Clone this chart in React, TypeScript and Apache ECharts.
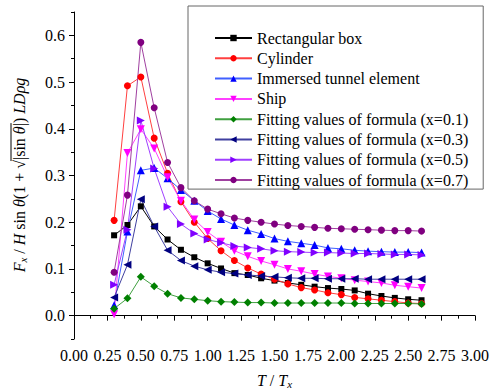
import React, { useEffect, useRef } from 'react';
import * as echarts from 'echarts';

const xValues = [0.3, 0.4, 0.5, 0.6, 0.7, 0.8, 0.9, 1.0, 1.1, 1.2, 1.3, 1.4, 1.5, 1.6, 1.7, 1.8, 1.9, 2.0, 2.1, 2.2, 2.3, 2.4, 2.5, 2.6];
const rectangularBox = [0.172, 0.194, 0.234, 0.191, 0.163, 0.141, 0.125, 0.112, 0.101, 0.091, 0.087, 0.080, 0.075, 0.070, 0.066, 0.062, 0.059, 0.057, 0.054, 0.047, 0.042, 0.038, 0.035, 0.033];
const cylinder = [0.204, 0.492, 0.511, 0.380, 0.305, 0.244, 0.200, 0.165, 0.139, 0.118, 0.102, 0.089, 0.078, 0.068, 0.060, 0.055, 0.049, 0.045, 0.039, 0.036, 0.033, 0.030, 0.027, 0.026];
const tunnel = [0.022, 0.180, 0.311, 0.316, 0.294, 0.269, 0.246, 0.224, 0.207, 0.194, 0.183, 0.175, 0.165, 0.159, 0.155, 0.151, 0.145, 0.143, 0.140, 0.138, 0.137, 0.136, 0.136, 0.135];
const ship = [0.003, 0.348, 0.399, 0.358, 0.296, 0.246, 0.206, 0.179, 0.158, 0.139, 0.127, 0.117, 0.109, 0.100, 0.095, 0.089, 0.084, 0.080, 0.076, 0.073, 0.070, 0.065, 0.062, 0.059];
const fit01 = [0.015, 0.037, 0.083, 0.063, 0.047, 0.038, 0.035, 0.032, 0.030, 0.029, 0.028, 0.028, 0.027, 0.027, 0.027, 0.027, 0.027, 0.027, 0.026, 0.026, 0.026, 0.026, 0.026, 0.025];
const fit03 = [0.039, 0.109, 0.249, 0.191, 0.140, 0.118, 0.106, 0.098, 0.093, 0.090, 0.087, 0.085, 0.083, 0.081, 0.080, 0.080, 0.079, 0.079, 0.079, 0.078, 0.078, 0.078, 0.078, 0.078];
const fit05 = [0.066, 0.184, 0.418, 0.315, 0.233, 0.196, 0.176, 0.163, 0.156, 0.149, 0.146, 0.143, 0.139, 0.137, 0.136, 0.135, 0.135, 0.134, 0.133, 0.133, 0.132, 0.131, 0.131, 0.130];
const fit07 = [0.093, 0.258, 0.585, 0.445, 0.328, 0.274, 0.246, 0.228, 0.218, 0.209, 0.204, 0.200, 0.196, 0.193, 0.191, 0.189, 0.187, 0.186, 0.185, 0.184, 0.183, 0.182, 0.182, 0.181];

const seriesNames = [
  'Rectangular box',
  'Cylinder',
  'Immersed tunnel element',
  'Ship',
  'Fitting values of formula (x=0.1)',
  'Fitting values of formula (x=0.3)',
  'Fitting values of formula (x=0.5)',
  'Fitting values of formula (x=0.7)',
];
const seriesValues = [rectangularBox, cylinder, tunnel, ship, fit01, fit03, fit05, fit07];

const yTickValues = [0, 0.1, 0.2, 0.3, 0.4, 0.5, 0.6];
const yMinorTickValues = [-0.05, 0.05, 0.15, 0.25, 0.35, 0.45, 0.55, 0.65];

const FONT = 'Liberation Serif';

const styles = [
  { color: '#000000', line: '#000000', symbol: 'rect', size: 6, rotate: 0 },
  { color: '#ff0000', line: '#ff4040', symbol: 'circle', size: 7, rotate: 0 },
  { color: '#0000ff', line: '#4060ff', symbol: 'triangle', size: 8, rotate: 0 },
  { color: '#ff00ff', line: '#ff40ff', symbol: 'triangle', size: 8, rotate: 180 },
  { color: '#008000', line: '#40a040', symbol: 'diamond', size: 8, rotate: 0 },
  { color: '#000080', line: '#4040a0', symbol: 'triangle', size: 8, rotate: 90 },
  { color: '#8000ff', line: '#a040ff', symbol: 'triangle', size: 8, rotate: -90 },
  { color: '#800080', line: '#a040a0', symbol: 'circle', size: 7, rotate: 0 },
];

type Piece = { t: string; it?: boolean; size?: number; dy?: number; over?: boolean };

function measure(text: string, size: number, italic: boolean): number {
  const ctx = document.createElement('canvas').getContext('2d');
  if (!ctx) return text.length * size * 0.5;
  ctx.font = `${italic ? 'italic ' : ''}${size}px "Liberation Serif"`;
  return ctx.measureText(text).width;
}

function buildTitle(pieces: Piece[], overY: number) {
  let x = 0;
  const items: any[] = [];
  let o1 = Infinity;
  let o2 = -Infinity;
  for (const p of pieces) {
    const size = p.size || 16;
    const w = measure(p.t, size, !!p.it);
    items.push({
      type: 'text',
      x,
      y: p.dy || 0,
      style: {
        text: p.t,
        font: `${p.it ? 'italic ' : ''}${size}px "Liberation Serif"`,
        fill: '#000',
        align: 'left',
        verticalAlign: 'middle',
      },
    });
    if (p.over) {
      o1 = Math.min(o1, x);
      o2 = Math.max(o2, x + w);
    }
    x += w;
  }
  const half = x / 2;
  items.forEach((it) => (it.x -= half));
  if (o1 < o2) {
    items.push({
      type: 'line',
      shape: { x1: o1 - half - 1, y1: overY, x2: o2 - half, y2: overY },
      style: { stroke: '#000', lineWidth: 1 },
    });
  }
  return items;
}

export default function App() {
  const ref = useRef<HTMLDivElement>(null);

  useEffect(() => {
    if (!ref.current) return;
    const chart = echarts.init(ref.current, null, { renderer: 'svg' });

    const yTitle = buildTitle(
      [
        { t: 'F', it: true },
        { t: 'x', it: true, size: 11, dy: 4 },
        { t: ' / ' },
        { t: 'H', it: true },
        { t: ' sin ' },
        { t: 'θ', it: true },
        { t: '(1 + √' },
        { t: '|sin ', over: true },
        { t: 'θ', it: true, over: true },
        { t: '|', over: true },
        { t: ')' },
        { t: ' LDρg', it: true },
      ],
      -8
    );
    const xTitle = buildTitle(
      [
        { t: 'T', it: true },
        { t: ' / ' },
        { t: 'T', it: true },
        { t: 'x', it: true, size: 11, dy: 4 },
      ],
      -100
    );

    const option: any = {
      animation: false,
      backgroundColor: '#ffffff',
      textStyle: { fontFamily: FONT },
      grid: { left: 74, right: 23, top: 12, bottom: 52, containLabel: false, outerBoundsMode: 'none' },
      legend: {
        orient: 'vertical',
        left: 188,
        top: 6,
        padding: [24, 15, 1, 26],
        itemGap: 4.3,
        itemWidth: 37,
        itemHeight: 8,
        borderColor: '#666',
        borderWidth: 1,
        backgroundColor: '#ffffff',
        textStyle: { fontFamily: FONT, fontSize: 16, color: '#000', lineHeight: 16 },
        data: seriesNames,
      },
      xAxis: {
        type: 'value',
        min: 0,
        max: 3,
        interval: 0.25,
        axisLine: { show: true, lineStyle: { color: '#000', width: 1 } },
        axisTick: { show: true, length: 5, lineStyle: { color: '#000' } },
        minorTick: { show: true, splitNumber: 2, length: 3, lineStyle: { color: '#000' } },
        splitLine: { show: false },
        minorSplitLine: { show: false },
        axisLabel: {
          formatter: (v: number) => v.toFixed(2),
          fontFamily: FONT,
          fontSize: 16,
          color: '#000',
          margin: 8,
        },
      },
      yAxis: [
        {
          type: 'value',
          position: 'left',
          offset: 0,
          min: -0.05,
          max: 0.65,
          axisLine: { show: true, lineStyle: { color: '#000', width: 1 } },
          axisTick: { show: true, length: 5, customValues: yTickValues, lineStyle: { color: '#000' } },
          splitLine: { show: false },
          axisLabel: {
            customValues: yTickValues,
            formatter: (v: number) => v.toFixed(1),
            fontFamily: FONT,
            fontSize: 16,
            color: '#000',
            margin: 9,
          },
        },
        {
          type: 'value',
          position: 'left',
          offset: 0,
          min: -0.05,
          max: 0.65,
          axisLine: { show: false },
          axisTick: { show: true, length: 3, customValues: yMinorTickValues, lineStyle: { color: '#000' } },
          splitLine: { show: false },
          axisLabel: { show: false },
        },
      ],
      graphic: [
        { type: 'group', x: 19, y: 175, rotation: Math.PI / 2, children: yTitle },
        { type: 'group', x: 274.5, y: 380, children: xTitle },
      ],
      series: seriesNames.map((name, i) => ({
        name,
        type: 'line',
        yAxisIndex: 0,
        data: xValues.map((x, j) => [x, seriesValues[i][j]]),
        symbol: styles[i].symbol,
        symbolSize: styles[i].size,
        symbolRotate: styles[i].rotate,
        itemStyle: { color: styles[i].color },
        lineStyle: { color: styles[i].line, width: 1 },
        emphasis: { disabled: true },
      })),
    };

    chart.setOption(option);
    return () => chart.dispose();
  }, []);

  return (
    <div
      ref={ref}
      style={{ position: 'fixed', left: 0, top: 0, width: 498, height: 391, background: '#fff' }}
    />
  );
}
